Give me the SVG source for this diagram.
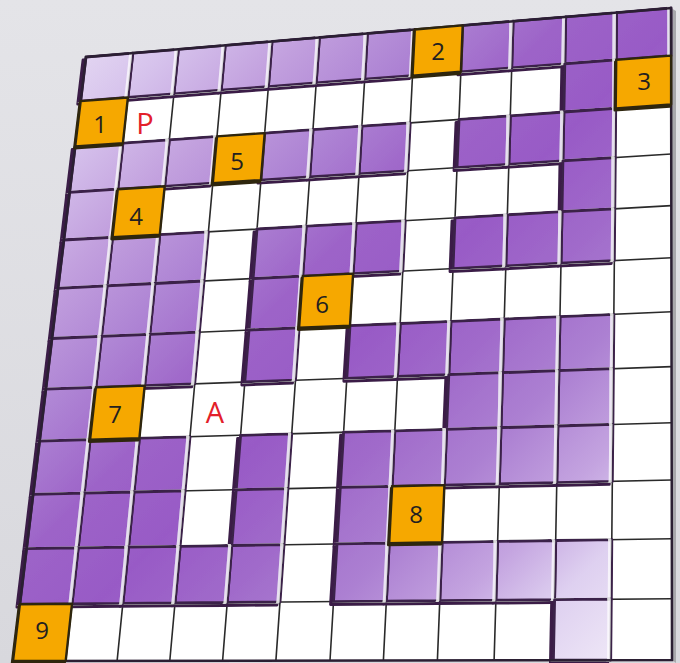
<svg xmlns="http://www.w3.org/2000/svg" width="680" height="663" viewBox="0 0 680 663">
<style>
.p{fill:url(#pg);stroke:#3b2048;stroke-width:2.8;stroke-linejoin:round;filter:url(#bev)}
.y{fill:#f6a800;stroke:#2f2510;stroke-width:2.4;stroke-linejoin:round;filter:url(#sh)}
.n{font-family:"Open Sans","Liberation Sans",sans-serif;font-size:24px;fill:#231f20;text-anchor:middle}
.r{font-family:"Open Sans","Liberation Sans",sans-serif;font-size:29px;fill:#e3202a;text-anchor:middle}
</style>
<defs>
<linearGradient id="bg" x1="0" y1="0" x2="0" y2="1">
<stop offset="0" stop-color="#e4e4e8"/><stop offset="1" stop-color="#d8d8dd"/>
</linearGradient>
<linearGradient id="pg" gradientUnits="userSpaceOnUse" x1="60" y1="40" x2="660" y2="640">
<stop offset="0" stop-color="#e8def4"/>
<stop offset="0.1" stop-color="#d6c2ec"/>
<stop offset="0.2" stop-color="#c2a0de"/>
<stop offset="0.3" stop-color="#ae84d4"/>
<stop offset="0.4" stop-color="#9d64c8"/>
<stop offset="0.5" stop-color="#985ac6"/>
<stop offset="0.6" stop-color="#a06aca"/>
<stop offset="0.7" stop-color="#ac80d2"/>
<stop offset="0.8" stop-color="#c4a4e0"/>
<stop offset="0.88" stop-color="#ded0f0"/>
<stop offset="1" stop-color="#f2ecf8"/>
</linearGradient>
<filter id="bev" x="-20%" y="-20%" width="140%" height="140%">
<feOffset in="SourceAlpha" dx="-3" dy="3" result="o"/>
<feFlood flood-color="#3a1f47"/>
<feComposite in2="o" operator="in" result="shd"/>
<feOffset in="SourceAlpha" dx="-2.5" dy="0" result="a"/>
<feOffset in="SourceAlpha" dx="-5.5" dy="0" result="b"/>
<feComposite in="a" in2="b" operator="out" result="e"/>
<feFlood flood-color="#ffffff" flood-opacity="0.7"/>
<feComposite in2="e" operator="in" result="hl"/>
<feMerge><feMergeNode in="shd"/><feMergeNode in="SourceGraphic"/><feMergeNode in="hl"/></feMerge>
</filter>
<filter id="sh" x="-20%" y="-20%" width="140%" height="140%">
<feOffset in="SourceAlpha" dx="-1.5" dy="1.5" result="o"/>
<feFlood flood-color="#2f2510"/>
<feComposite in2="o" operator="in" result="shd"/>
<feMerge><feMergeNode in="shd"/><feMergeNode in="SourceGraphic"/></feMerge>
</filter>
</defs>
<rect width="680" height="663" fill="url(#bg)"/>
<polygon points="671,8 676,11 676,663 672,660" fill="#a8a8ac"/>
<g id="board">
<polygon points="86,57 671,8 672,660 13,661" fill="#ffffff"/>
<path id="gridlines" fill="none" stroke="#2a2a2a" stroke-width="1.6" d="M132.8,53.1L65.7,660.9M178.4,49.3L117.1,660.8M225.2,45.3L169.8,660.8M272,41.4L222.6,660.7M319.4,37.4L275.9,660.6M367.4,33.4L330,660.5M414.8,29.5L383.4,660.4M462.7,25.4L437.4,660.4M513.1,21.2L494.1,660.3M565.7,16.8L553.4,660.2M616.6,12.6L610.7,660.1M80.7,101.1L671.1,55.6M75.2,146.4L671.1,104.5M69.6,192.3L671.2,154M63.9,240L671.3,205.6M58,288.3L671.4,257.7M52,338.5L671.5,311.8M45.9,389.2L671.6,366.6M39.6,441.1L671.6,422.7M33.1,494.3L671.7,480M26.6,548.7L671.8,538.7M19.9,604.2L671.9,598.7"/>
</g>
<g id="purple-tiles">
<polygon class="p" points="616.6,12.6 671,8 671.1,55.6 616.2,59.9"/>
<polygon class="p" points="565.7,16.8 616.6,12.6 616.2,59.9 564.8,63.8"/>
<polygon class="p" points="513.1,21.2 565.7,16.8 564.8,63.8 511.7,67.9"/>
<polygon class="p" points="462.7,25.4 513.1,21.2 511.7,67.9 460.9,71.8"/>
<polygon class="p" points="367.4,33.4 414.8,29.5 412.5,75.6 364.7,79.2"/>
<polygon class="p" points="319.4,37.4 367.4,33.4 364.7,79.2 316.2,82.9"/>
<polygon class="p" points="272,41.4 319.4,37.4 316.2,82.9 268.4,86.6"/>
<polygon class="p" points="225.2,45.3 272,41.4 268.4,86.6 221.2,90.2"/>
<polygon class="p" points="178.4,49.3 225.2,45.3 221.2,90.2 173.9,93.9"/>
<polygon class="p" points="132.8,53.1 178.4,49.3 173.9,93.9 127.9,97.5"/>
<polygon class="p" points="86,57 132.8,53.1 127.9,97.5 80.7,101.1"/>
<polygon class="p" points="564.8,63.8 616.2,59.9 615.7,108.4 563.9,112"/>
<polygon class="p" points="563.9,112 615.7,108.4 615.3,157.6 562.9,160.9"/>
<polygon class="p" points="510.3,115.8 563.9,112 562.9,160.9 508.8,164.4"/>
<polygon class="p" points="459,119.4 510.3,115.8 508.8,164.4 457,167.6"/>
<polygon class="p" points="361.9,126.2 410.2,122.9 407.8,170.8 359,173.9"/>
<polygon class="p" points="313,129.6 361.9,126.2 359,173.9 309.7,177"/>
<polygon class="p" points="264.7,133.1 313,129.6 309.7,177 260.9,180.1"/>
<polygon class="p" points="169.3,139.8 217,136.4 212.8,183.2 164.7,186.3"/>
<polygon class="p" points="122.9,143.1 169.3,139.8 164.7,186.3 117.8,189.2"/>
<polygon class="p" points="75.2,146.4 122.9,143.1 117.8,189.2 69.6,192.3"/>
<polygon class="p" points="562.9,160.9 615.3,157.6 614.8,208.8 562,211.7"/>
<polygon class="p" points="69.6,192.3 117.8,189.2 112.5,237.3 63.9,240"/>
<polygon class="p" points="562,211.7 614.8,208.8 614.3,260.6 561,263.2"/>
<polygon class="p" points="507.3,214.8 562,211.7 561,263.2 505.8,266"/>
<polygon class="p" points="455,217.8 507.3,214.8 505.8,266 453,268.6"/>
<polygon class="p" points="356.1,223.4 405.3,220.7 402.8,271.1 353.1,273.6"/>
<polygon class="p" points="306.2,226.2 356.1,223.4 353.1,273.6 302.7,276.1"/>
<polygon class="p" points="257,229 306.2,226.2 302.7,276.1 253.1,278.6"/>
<polygon class="p" points="159.8,234.6 208.4,231.8 204,281 154.9,283.5"/>
<polygon class="p" points="112.5,237.3 159.8,234.6 154.9,283.5 107.1,285.9"/>
<polygon class="p" points="63.9,240 112.5,237.3 107.1,285.9 58,288.3"/>
<polygon class="p" points="253.1,278.6 302.7,276.1 299.1,327.8 249,330"/>
<polygon class="p" points="154.9,283.5 204,281 199.4,332.1 149.8,334.3"/>
<polygon class="p" points="107.1,285.9 154.9,283.5 149.8,334.3 101.5,336.3"/>
<polygon class="p" points="58,288.3 107.1,285.9 101.5,336.3 52,338.5"/>
<polygon class="p" points="560,316.6 613.9,314.3 613.4,368.7 558.9,370.7"/>
<polygon class="p" points="504.2,319 560,316.6 558.9,370.7 502.6,372.7"/>
<polygon class="p" points="450.9,321.3 504.2,319 502.6,372.7 448.8,374.7"/>
<polygon class="p" points="400.2,323.5 450.9,321.3 448.8,374.7 397.5,376.5"/>
<polygon class="p" points="350,325.6 400.2,323.5 397.5,376.5 346.8,378.3"/>
<polygon class="p" points="249,330 299.1,327.8 295.5,380.2 244.8,382"/>
<polygon class="p" points="149.8,334.3 199.4,332.1 194.7,383.8 144.7,385.6"/>
<polygon class="p" points="101.5,336.3 149.8,334.3 144.7,385.6 95.9,387.4"/>
<polygon class="p" points="52,338.5 101.5,336.3 95.9,387.4 45.9,389.2"/>
<polygon class="p" points="558.9,370.7 613.4,368.7 612.9,424.4 557.9,426"/>
<polygon class="p" points="502.6,372.7 558.9,370.7 557.9,426 501,427.7"/>
<polygon class="p" points="448.8,374.7 502.6,372.7 501,427.7 446.6,429.3"/>
<polygon class="p" points="45.9,389.2 95.9,387.4 90.1,439.7 39.6,441.1"/>
<polygon class="p" points="557.9,426 612.9,424.4 612.3,481.4 556.8,482.6"/>
<polygon class="p" points="501,427.7 557.9,426 556.8,482.6 499.3,483.9"/>
<polygon class="p" points="446.6,429.3 501,427.7 499.3,483.9 444.4,485.1"/>
<polygon class="p" points="394.8,430.8 446.6,429.3 444.4,485.1 392.1,486.3"/>
<polygon class="p" points="343.6,432.2 394.8,430.8 392.1,486.3 340.3,487.4"/>
<polygon class="p" points="240.6,435.3 291.7,433.8 287.9,488.6 236.2,489.8"/>
<polygon class="p" points="139.4,438.2 190,436.8 185.1,490.9 134,492"/>
<polygon class="p" points="90.1,439.7 139.4,438.2 134,492 84.2,493.2"/>
<polygon class="p" points="39.6,441.1 90.1,439.7 84.2,493.2 33.1,494.3"/>
<polygon class="p" points="340.3,487.4 392.1,486.3 389.2,543.1 337,543.9"/>
<polygon class="p" points="236.2,489.8 287.9,488.6 284,544.7 231.8,545.5"/>
<polygon class="p" points="134,492 185.1,490.9 180.1,546.3 128.5,547.1"/>
<polygon class="p" points="84.2,493.2 134,492 128.5,547.1 78.2,547.8"/>
<polygon class="p" points="33.1,494.3 84.2,493.2 78.2,547.8 26.6,548.7"/>
<polygon class="p" points="555.7,540.5 611.8,539.7 611.3,599.2 554.6,599.7"/>
<polygon class="p" points="497.6,541.4 555.7,540.5 554.6,599.7 495.9,600.2"/>
<polygon class="p" points="442.1,542.3 497.6,541.4 495.9,600.2 439.8,600.7"/>
<polygon class="p" points="389.2,543.1 442.1,542.3 439.8,600.7 386.4,601.1"/>
<polygon class="p" points="337,543.9 389.2,543.1 386.4,601.1 333.5,601.6"/>
<polygon class="p" points="231.8,545.5 284,544.7 280,602 227.2,602.5"/>
<polygon class="p" points="180.1,546.3 231.8,545.5 227.2,602.5 175,602.9"/>
<polygon class="p" points="128.5,547.1 180.1,546.3 175,602.9 122.9,603.3"/>
<polygon class="p" points="78.2,547.8 128.5,547.1 122.9,603.3 72,603.8"/>
<polygon class="p" points="26.6,548.7 78.2,547.8 72,603.8 19.9,604.2"/>
<polygon class="p" points="554.6,599.7 611.3,599.2 610.7,660.1 553.4,660.2"/>
</g>
<polygon id="outline" points="86,57 671,8 672,660 13,661" fill="none" stroke="#2b1f33" stroke-width="2.5"/>
<g id="tile-2"><polygon class="y" points="414.8,29.5 462.7,25.4 460.9,71.8 412.5,75.6"/><text class="n" x="438" y="60">2</text></g>
<g id="tile-1"><polygon class="y" points="80.7,101.1 127.9,97.5 122.9,143.1 75.2,146.4"/><text class="n" x="100" y="133">1</text></g>
<g id="tile-3"><polygon class="y" points="616.2,59.9 671.1,55.6 671.1,104.5 615.7,108.4"/><text class="n" x="644" y="90">3</text></g>
<g id="tile-5"><polygon class="y" points="217,136.4 264.7,133.1 260.9,180.1 212.8,183.2"/><text class="n" x="237" y="170">5</text></g>
<g id="tile-4"><polygon class="y" points="117.8,189.2 164.7,186.3 159.8,234.6 112.5,237.3"/><text class="n" x="136" y="225">4</text></g>
<g id="tile-6"><polygon class="y" points="302.7,276.1 353.1,273.6 350,325.6 299.1,327.8"/><text class="n" x="322" y="313">6</text></g>
<g id="tile-7"><polygon class="y" points="95.9,387.4 144.7,385.6 139.4,438.2 90.1,439.7"/><text class="n" x="115" y="423">7</text></g>
<g id="tile-8"><polygon class="y" points="392.1,486.3 444.4,485.1 442.1,542.3 389.2,543.1"/><text class="n" x="416" y="523">8</text></g>
<g id="tile-9"><polygon class="y" points="19.9,604.2 72,603.8 65.7,660.9 13,661"/><text class="n" x="42" y="639">9</text></g>
<g id="labels">
<text class="r" x="145" y="133.5">P</text>
<text class="r" x="215" y="423">A</text>
</g>
</svg>
